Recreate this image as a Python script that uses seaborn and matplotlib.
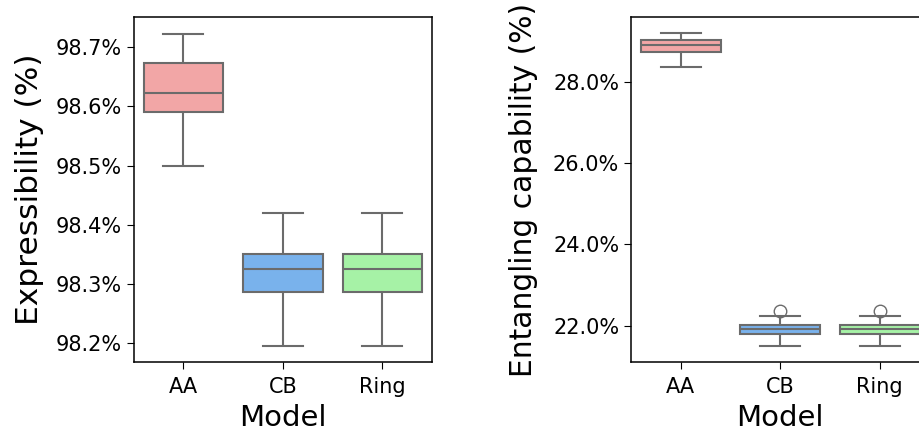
import numpy as np
import pandas as pd
import matplotlib
matplotlib.use("Agg")
import matplotlib.pyplot as plt
import seaborn as sns
from matplotlib.ticker import FuncFormatter, FixedLocator

# per-model samples (percent)
models = ["AA", "CB", "Ring"]
expr_aa = [98.500, 98.560, 98.591, 98.610, 98.622, 98.650, 98.674, 98.700, 98.723]
expr_cb = [98.195, 98.250, 98.287, 98.310, 98.326, 98.340, 98.351, 98.390, 98.419]
expr_ring = [98.195, 98.250, 98.287, 98.310, 98.326, 98.340, 98.351, 98.390, 98.419]
ent_aa = [28.37, 28.60, 28.74, 28.83, 28.91, 28.97, 29.04, 29.12, 29.21]
ent_cb = [21.49, 21.70, 21.80, 21.86, 21.92, 21.97, 22.02, 22.24, 22.37]
ent_ring = [21.49, 21.70, 21.80, 21.86, 21.92, 21.97, 22.02, 22.24, 22.37]

expr_ticks = [98.2, 98.3, 98.4, 98.5, 98.6, 98.7]
ent_ticks = [22.0, 24.0, 26.0, 28.0]
palette = ["#FF9999", "#66B2FF", "#99FF99"]


def long_table(series):
    rows = []
    for m, vals in zip(models, series):
        for v in vals:
            rows.append({"Model": m, "value": v})
    return pd.DataFrame(rows)


df_expr = long_table([expr_aa, expr_cb, expr_ring])
df_ent = long_table([ent_aa, ent_cb, ent_ring])

fig = plt.figure(figsize=(9.2, 4.38), dpi=100)
ax1 = fig.add_axes([0.1452, 0.1735, 0.3245, 0.7877])
ax2 = fig.add_axes([0.6859, 0.1735, 0.3245, 0.7877])

tick_fs = 15
xlabel_fs = 21

panels = [
    (ax1, df_expr, "Expressibility (%)", expr_ticks, (98.168, 98.751), 22.5, 8),
    (ax2, df_ent, "Entangling capability (%)", ent_ticks, (21.10, 29.61), 21.4, 11),
]
for ax, df, ylabel, ticks, ylim, yfs, pad in panels:
    sns.boxplot(data=df, x="Model", y="value", hue="Model", palette=palette,
                order=models, legend=False, ax=ax, linewidth=1.5,
                flierprops=dict(marker="o", markerfacecolor="none", markersize=9))
    ax.set_ylim(*ylim)
    ax.yaxis.set_major_locator(FixedLocator(ticks))
    ax.yaxis.set_major_formatter(FuncFormatter(lambda v, p: f"{v:.1f}%"))
    ax.set_xlabel("Model", fontsize=xlabel_fs, labelpad=5)
    ax.set_ylabel(ylabel, fontsize=yfs, labelpad=pad)
    ax.tick_params(labelsize=tick_fs, length=5)
    ax.tick_params(axis="x", pad=5.5)
    for s in ax.spines.values():
        s.set_linewidth(1.1)

fig.savefig("out.png", dpi=100)
